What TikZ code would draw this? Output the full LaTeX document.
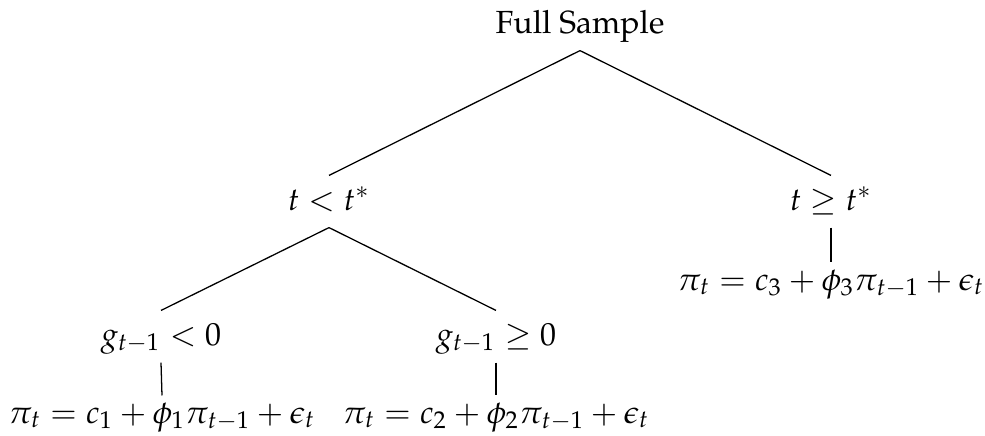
\documentclass[tikz,border=0pt]{standalone}
\usepackage[T1]{fontenc}
\usepackage{mathpazo}

\begin{document}
\begin{tikzpicture}[x=0.3125pt,y=-0.3125pt,
  every node/.style={font=\normalsize},
  treenode/.style={anchor=base,inner sep=2pt,text height=8.6pt,text depth=3.3pt},
  leafnode/.style={treenode,text height=6.4pt}]
  \useasboundingbox (0,0) rectangle (985,435);
  % tree nodes
  \node[treenode] (full) at (580,33) {Full Sample};
  \node[treenode] (early) at (329,210) {\(t < t^*\)};
  \node[treenode] (late) at (831,210) {\(t \geq t^*\)};
  \node[treenode] (neg) at (161,345) {\(g_{t-1} < 0\)};
  \node[treenode] (pos) at (496,345) {\(g_{t-1} \geq 0\)};
  \node[leafnode] (eqone) at (162,423) {\(\pi_t = c_1 + \phi_1 \pi_{t-1} + \epsilon_t\)};
  \node[leafnode] (eqtwo) at (496,423) {\(\pi_t = c_2 + \phi_2 \pi_{t-1} + \epsilon_t\)};
  \node[leafnode] (eqthree) at (831,290) {\(\pi_t = c_3 + \phi_3 \pi_{t-1} + \epsilon_t\)};

  % branches
  \draw (full.south) -- (early.north);
  \draw (full.south) -- (late.north);
  \draw (early.south) -- (neg.north);
  \draw (early.south) -- (pos.north);
  \draw (neg.south) -- (eqone.north);
  \draw (pos.south) -- (eqtwo.north);
  \draw (late.south) -- (eqthree.north);
\end{tikzpicture}
\end{document}
